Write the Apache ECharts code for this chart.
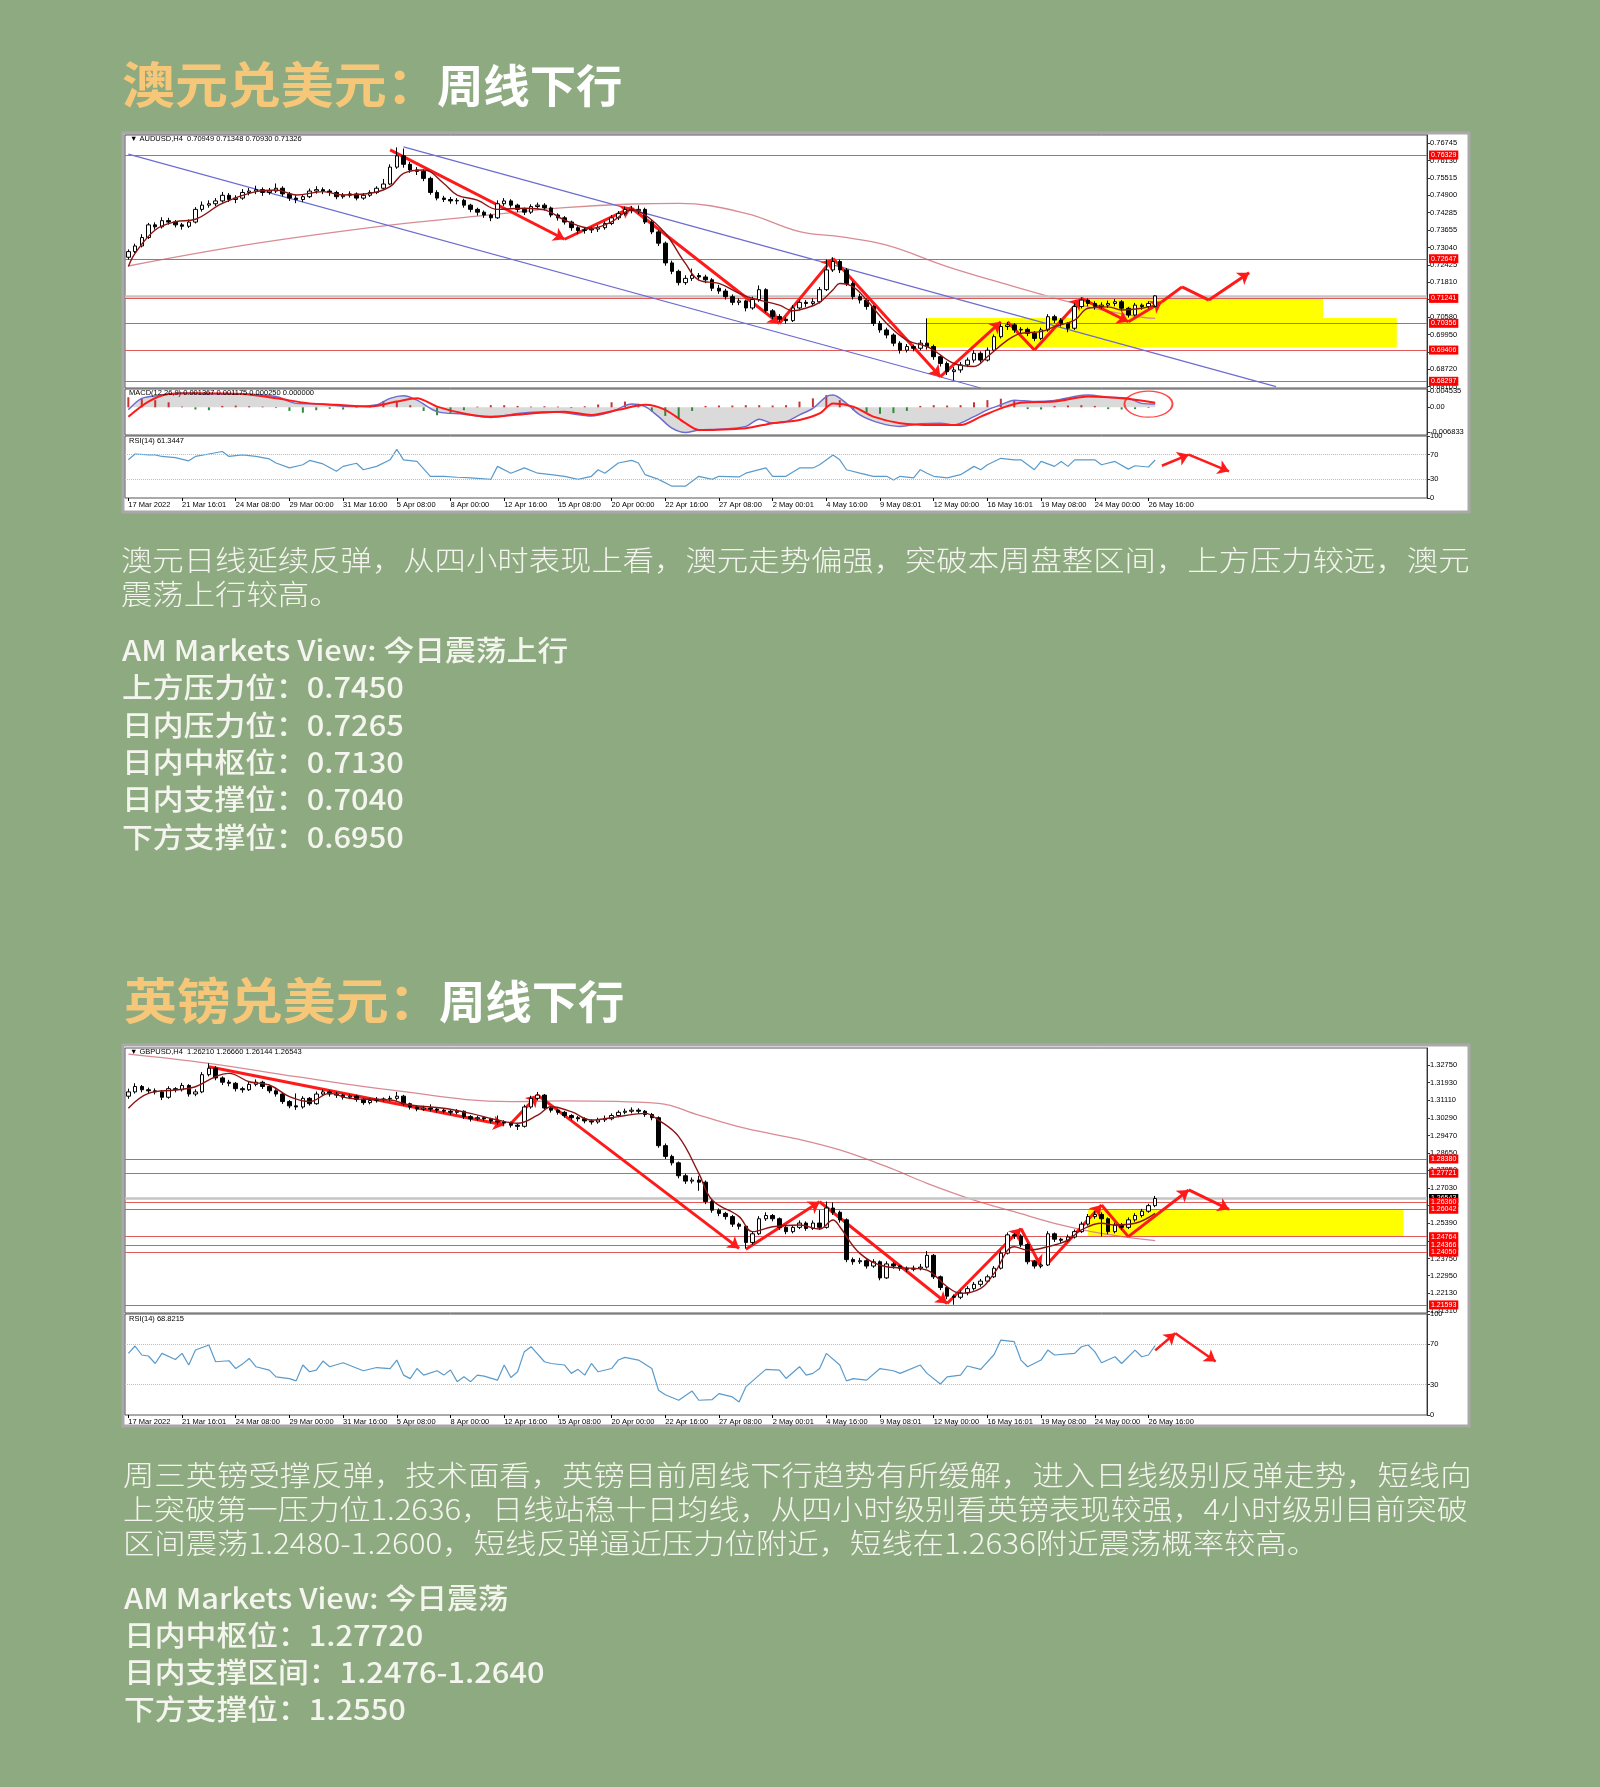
<!DOCTYPE html>
<html>
<head>
<meta charset="utf-8">
<title>澳元兑美元 / 英镑兑美元</title>
<script src="https://cdn.jsdelivr.net/npm/echarts@6.0.0/dist/echarts.min.js"></script>
<style>
html,body{margin:0;padding:0;background:#8eaa80;}
#main{width:1600px;height:1787px;}
</style>
</head>
<body>
<div id="main"></div>
<script>
// ---------------- shared ----------------
const xTicks = ['17 Mar 2022','21 Mar 16:01','24 Mar 08:00','29 Mar 00:00','31 Mar 16:00','5 Apr 08:00','8 Apr 00:00','12 Apr 16:00','15 Apr 08:00','20 Apr 00:00','22 Apr 16:00','27 Apr 08:00','2 May 00:01','4 May 16:00','9 May 08:01','12 May 00:00','16 May 16:01','19 May 08:00','24 May 00:00','26 May 16:00'];
const futureBars = 40;
const rsiTicks = [100,70,30,0];
const rsiLevels = [70,30];

// ---------------- AUDUSD ----------------
const audTitle = ['澳元兑美元：','周线下行'];
const audText = ['澳元日线延续反弹，从四小时表现上看，澳元走势偏强，突破本周盘整区间，上方压力较远，澳元','震荡上行较高。'];
const audView = ['AM Markets View: 今日震荡上行','上方压力位：0.7450','日内压力位：0.7265','日内中枢位：0.7130','日内支撑位：0.7040','下方支撑位：0.6950'];
const audHeader = '\u25BC AUDUSD,H4  0.70949 0.71348 0.70930 0.71326';
const audMacdHeader = 'MACD(12,26,9) 0.001367 0.001175 0.000250 0.000000';
const audRsiHeader = 'RSI(14) 61.3447';
// [open, close, low, high]
const audCandles = [
[.7270,.7290,.7262,.7298],[.7290,.7310,.7284,.7318],[.7310,.7340,.7305,.7352],[.7340,.7385,.7335,.7392],[.7385,.7378,.7368,.7394],
[.7378,.7400,.7372,.7412],[.7400,.7395,.7386,.7410],[.7395,.7385,.7376,.7402],[.7385,.7380,.7368,.7392],[.7380,.7395,.7374,.7404],
[.7395,.7440,.7390,.7448],[.7440,.7455,.7432,.7468],[.7455,.7460,.7446,.7472],[.7460,.7470,.7452,.7480],[.7470,.7490,.7464,.7502],
[.7490,.7475,.7466,.7498],[.7475,.7480,.7462,.7490],[.7480,.7500,.7474,.7512],[.7500,.7505,.7490,.7516],[.7505,.7510,.7494,.7524],
[.7510,.7500,.7488,.7518],[.7500,.7505,.7492,.7516],[.7505,.7515,.7498,.7532],[.7515,.7495,.7486,.7522],[.7495,.7480,.7470,.7502],
[.7480,.7475,.7462,.7490],[.7475,.7485,.7466,.7494],[.7485,.7505,.7480,.7514],[.7505,.7510,.7496,.7522],[.7510,.7505,.7494,.7518],
[.7505,.7500,.7488,.7512],[.7500,.7485,.7476,.7506],[.7485,.7490,.7478,.7498],[.7490,.7495,.7482,.7504],[.7495,.7480,.7472,.7500],
[.7480,.7490,.7474,.7498],[.7490,.7500,.7484,.7508],[.7500,.7515,.7494,.7522],[.7515,.7530,.7508,.7548],[.7530,.7590,.7526,.7600],
[.7590,.7630,.7584,.7660],[.7630,.7600,.7588,.7656],[.7600,.7580,.7570,.7608],[.7580,.7575,.7562,.7590],[.7575,.7550,.7540,.7582],
[.7550,.7500,.7492,.7556],[.7500,.7480,.7472,.7508],[.7480,.7475,.7466,.7488],[.7475,.7470,.7460,.7484],[.7470,.7472,.7458,.7480],
[.7472,.7455,.7446,.7478],[.7455,.7440,.7430,.7460],[.7440,.7430,.7418,.7446],[.7430,.7420,.7410,.7436],[.7420,.7410,.7398,.7426],
[.7410,.7460,.7406,.7472],[.7460,.7470,.7452,.7480],[.7470,.7455,.7446,.7476],[.7455,.7440,.7430,.7460],[.7440,.7430,.7420,.7446],
[.7430,.7450,.7424,.7458],[.7450,.7455,.7442,.7464],[.7455,.7445,.7436,.7462],[.7445,.7420,.7412,.7450],[.7420,.7410,.7400,.7426],
[.7410,.7395,.7386,.7416],[.7395,.7375,.7364,.7400],[.7375,.7365,.7352,.7380],[.7365,.7367,.7354,.7374],[.7367,.7370,.7356,.7378],
[.7370,.7375,.7360,.7384],[.7375,.7390,.7368,.7398],[.7390,.7410,.7384,.7420],[.7410,.7425,.7402,.7434],[.7425,.7440,.7418,.7450],
[.7440,.7435,.7426,.7452],[.7435,.7440,.7424,.7454],[.7440,.7395,.7388,.7446],[.7395,.7360,.7352,.7402],[.7360,.7320,.7310,.7366],
[.7320,.7250,.7240,.7326],[.7250,.7220,.7210,.7258],[.7220,.7180,.7170,.7226],[.7180,.7195,.7172,.7206],[.7195,.7205,.7186,.7230],
[.7205,.7200,.7188,.7214],[.7200,.7190,.7178,.7208],[.7190,.7160,.7150,.7196],[.7160,.7150,.7140,.7172],[.7150,.7130,.7120,.7158],
[.7130,.7110,.7100,.7138],[.7110,.7115,.7100,.7124],[.7115,.7090,.7078,.7120],[.7090,.7120,.7084,.7130],[.7120,.7155,.7112,.7170],
[.7155,.7080,.7072,.7160],[.7080,.7060,.7050,.7086],[.7060,.7050,.7040,.7068],[.7050,.7045,.7034,.7058],[.7045,.7090,.7040,.7100],
[.7090,.7110,.7082,.7120],[.7110,.7106,.7094,.7118],[.7106,.7112,.7096,.7124],[.7112,.7155,.7106,.7164],[.7155,.7225,.7150,.7262],
[.7225,.7255,.7218,.7270],[.7255,.7225,.7214,.7262],[.7225,.7177,.7168,.7232],[.7177,.7130,.7120,.7184],[.7130,.7118,.7106,.7140],
[.7118,.7095,.7084,.7124],[.7095,.7035,.7026,.7100],[.7035,.7012,.7002,.7044],[.7012,.6994,.6982,.7020],[.6994,.6965,.6954,.7000],
[.6965,.6940,.6928,.6972],[.6940,.6953,.6932,.6962],[.6953,.6947,.6936,.6960],[.6947,.6965,.6940,.6976],[.6965,.6953,.6942,.7053],
[.6953,.6917,.6906,.6960],[.6917,.6893,.6882,.6924],[.6893,.6864,.6852,.6900],[.6864,.6870,.6833,.6880],[.6870,.6888,.6860,.6898],
[.6888,.6905,.6880,.6914],[.6905,.6929,.6896,.6940],[.6929,.6905,.6896,.6936],[.6905,.6940,.6900,.6950],[.6940,.6988,.6934,.6996],
[.6988,.7024,.6982,.7034],[.7024,.7030,.7012,.7040],[.7030,.7012,.7002,.7036],[.7012,.7014,.7000,.7022],[.7014,.7000,.6990,.7020],
[.7000,.6982,.6972,.7008],[.6982,.7012,.6976,.7020],[.7012,.7059,.7006,.7068],[.7059,.7047,.7036,.7066],[.7047,.7035,.7024,.7054],
[.7035,.7018,.7004,.7040],[.7018,.7095,.7012,.7106],[.7095,.7118,.7088,.7128],[.7118,.7106,.7096,.7124],[.7106,.7095,.7084,.7114],
[.7095,.7100,.7086,.7110],[.7100,.7106,.7090,.7116],[.7106,.7112,.7096,.7122],[.7112,.7089,.7078,.7118],[.7089,.7065,.7056,.7094],
[.7065,.7100,.7060,.7108],[.7100,.7095,.7084,.7106],[.7095,.7106,.7088,.7114],[.7095,.7133,.7093,.7135]
];
const audMaShort = [[0,.7237],[1,.7284],[4,.7367],[7,.7396],[10,.7405],[14,.7461],[19,.7503],[22,.7509],[25,.7491],[29,.7503],[32,.7491],[36,.7497],[39,.7521],[41,.7568],[44,.7580],[47,.7532],[49,.7491],[52,.7473],[55,.7440],[59,.7444],[62,.7438],[65,.7402],[69,.7373],[72,.7396],[75,.7438],[77,.7420],[80,.7355],[83,.7248],[85,.7189],[88,.7177],[91,.7142],[93,.7124],[97,.7100],[99,.7080],[101,.7090],[103,.7110],[105,.7155],[106,.7177],[108,.7165],[110,.7118],[113,.7035],[116,.6976],[119,.6953],[120,.6940],[123,.6893],[126,.6882],[128,.6917],[131,.6976],[133,.7000],[136,.7006],[138,.7024],[141,.7047],[143,.7089],[146,.7094],[148,.7083],[151,.7089],[153,.7100]];
const audMaLong = [[0,.7239],[19,.7319],[39,.7384],[52,.7416],[65,.7446],[75,.7459],[82,.7461],[92,.7426],[100,.7361],[106,.7343],[113,.7313],[122,.7237],[132,.7166],[141,.7106],[145,.7083],[151,.7057],[153,.7053]];
const audPriceTicks = [0.76745,0.76130,0.75515,0.74900,0.74285,0.73655,0.73040,0.72425,0.71810,0.71195,0.70580,0.69950,0.69335,0.68720,0.68105];
const audLevels = [0.76329,0.72647,0.71241,0.70356,0.69406,0.68297];
const audLast = 0.71326;
const audChannel = [[[0,.7636],[127,.6806]],[[41,.7662],[171,.6811]]];
const audBoxes = [[[119,.7054],[189,.6950]],[[141,.7124],[178,.7050]]];
const audArrows = [
[[39,.7651],[65,.7334],1],[[65,.7334],[75,.7447],1],[[75,.7444],[97,.7035],1],[[97,.7035],[105,.7266],1],
[[105,.7266],[121,.6846],1],[[121,.6846],[130,.7041],1],[[131,.7041],[135,.6941],0],[[135,.6941],[142,.7124],1],
[[142,.7124],[149,.7041],1],[[149,.7041],[154,.7112],1],[[154,.7112],[157,.7165],0],[[157,.7165],[161,.7118],0],
[[161,.7118],[167,.7215],1]];
const audMacd = [[0,-.0007],[2,.0025],[5,.0034],[8,.0040],[12,.0037],[17,.0037],[22,.0030],[25,.0011],[29,.0009],[33,.0002],[37,.0007],[39,.0025],[41,.0032],[43,.0020],[46,-.0012],[50,-.0019],[54,-.0028],[58,-.0017],[62,-.0012],[65,-.0015],[69,-.0024],[72,-.0012],[75,.0009],[77,.0002],[79,-.0026],[81,-.0058],[83,-.0070],[85,-.0063],[88,-.0061],[92,-.0053],[94,-.0033],[96,-.0044],[98,-.0040],[100,-.0021],[102,-.0003],[104,.0030],[105,.0034],[107,.0011],[109,-.0021],[112,-.0044],[115,-.0053],[118,-.0046],[121,-.0044],[123,-.0049],[126,-.0026],[128,-.0007],[130,.0007],[132,.0020],[135,.0016],[138,.0019],[141,.0030],[143,.0034],[146,.0028],[149,.0025],[151,.0011],[153,.0009]];
const audSignal = [[0,-.0026],[3,.0016],[6,.0037],[10,.0039],[17,.0037],[22,.0025],[27,.0011],[31,.0007],[36,.0002],[40,.0016],[43,.0025],[46,.0002],[50,-.0017],[54,-.0026],[60,-.0017],[65,-.0012],[69,-.0021],[73,-.0007],[77,.0007],[80,-.0007],[83,-.0044],[85,-.0063],[92,-.0058],[96,-.0044],[100,-.0035],[103,-.0017],[105,.0011],[108,.0002],[111,-.0026],[115,-.0044],[120,-.0049],[124,-.0049],[127,-.0026],[130,-.0003],[133,.0013],[138,.0016],[143,.0030],[148,.0025],[153,.0013]];
// histogram, one value per two bars
const audOsma = [.0028,.0025,.0020,.0014,.0002,-.0006,-.0008,.0004,.0005,.0003,.0002,-.0002,-.0010,-.0015,-.0008,-.0004,-.0006,-.0002,.0004,.0018,.0016,.0006,-.0010,-.0022,-.0018,-.0008,.0002,.0006,.0006,.0004,.0002,.0003,.0002,-.0002,.0003,.0008,.0014,.0016,.0010,-.0012,-.0024,-.0030,-.0010,.0004,.0005,.0005,.0006,.0006,.0005,.0006,.0016,.0025,.0034,.0020,-.0008,-.0015,-.0018,-.0016,-.0010,.0004,.0006,.0005,.0006,.0014,.0020,.0024,.0018,-.0005,-.0006,.0004,.0005,.0006,.0004,-.0005,-.0006,-.0005,-.0002];
const audMacdTicks = [0.004535, 0, -0.006833];
const audMacdCircle = [152, 0.0009];
const audRsi = [[0,61.6],[1,71],[3,69.5],[4,69.5],[5,67],[7,65],[9,60],[10,67],[12,71],[14,75],[15,67],[17,69.5],[19,67],[21,63],[22,56.5],[24,48.5],[26,53.6],[27,60.6],[29,55],[31,43],[32,51],[34,56],[35,45.6],[37,51],[39,61.6],[40,78.5],[41,61.6],[43,59],[45,35],[47,35],[49,33.5],[51,32.5],[54,30],[55,51],[57,40],[59,48.5],[61,40],[63,37.6],[65,35],[67,30],[69,35],[70,45.6],[71,40],[73,56.5],[75,60.6],[76,56.5],[77,37.6],[79,30],[81,19],[83,19],[85,35],[87,30],[88,35],[91,34],[92,40],[95,48.5],[96,35],[98,35],[100,48.5],[102,48.5],[103,53.6],[105,69.5],[106,61.6],[107,45.6],[109,40],[111,35],[113,35],[114,29],[115,35],[117,32.5],[118,45.6],[119,40],[120,35],[122,32.5],[124,37.6],[126,51],[127,45.6],[128,53.6],[130,64],[132,61.6],[133,61.6],[135,45.6],[136,59],[138,51],[139,59],[140,51],[141,61.6],[144,61.6],[145,53.6],[147,59],[149,46.6],[150,52],[152,50],[153,61.3]];
const audRsiArrows = [[[154,52],[158,70],1],[[158,70],[164,43],1]];

// ---------------- GBPUSD ----------------
const gbpTitle = ['英镑兑美元：','周线下行'];
const gbpText = ['周三英镑受撑反弹，技术面看，英镑目前周线下行趋势有所缓解，进入日线级别反弹走势，短线向','上突破第一压力位1.2636，日线站稳十日均线，从四小时级别看英镑表现较强，4小时级别目前突破','区间震荡1.2480-1.2600，短线反弹逼近压力位附近，短线在1.2636附近震荡概率较高。'];
const gbpView = ['AM Markets View: 今日震荡','日内中枢位：1.27720','日内支撑区间：1.2476-1.2640','下方支撑位：1.2550'];
const gbpHeader = '\u25BC GBPUSD,H4  1.26210 1.26660 1.26144 1.26543';
const gbpRsiHeader = 'RSI(14) 68.8215';
const gbpCandles = [
[1.3130,1.3150,1.3118,1.3165],[1.3150,1.3175,1.3142,1.3190],[1.3175,1.3160,1.3148,1.3182],[1.3160,1.3155,1.3140,1.3170],[1.3155,1.3150,1.3138,1.3166],
[1.3150,1.3125,1.3112,1.3158],[1.3125,1.3165,1.3118,1.3176],[1.3165,1.3160,1.3148,1.3172],[1.3160,1.3180,1.3152,1.3192],[1.3180,1.3140,1.3128,1.3186],
[1.3140,1.3150,1.3130,1.3162],[1.3150,1.3230,1.3144,1.3242],[1.3230,1.3260,1.3222,1.3283],[1.3260,1.3215,1.3204,1.3270],[1.3215,1.3195,1.3182,1.3222],
[1.3195,1.3190,1.3176,1.3206],[1.3190,1.3165,1.3152,1.3196],[1.3165,1.3160,1.3146,1.3174],[1.3160,1.3185,1.3154,1.3200],[1.3185,1.3195,1.3176,1.3208],
[1.3195,1.3175,1.3164,1.3202],[1.3175,1.3155,1.3144,1.3182],[1.3155,1.3140,1.3128,1.3162],[1.3140,1.3105,1.3094,1.3146],[1.3105,1.3085,1.3074,1.3112],
[1.3085,1.3080,1.3066,1.3143],[1.3080,1.3120,1.3072,1.3130],[1.3120,1.3095,1.3086,1.3126],[1.3095,1.3140,1.3090,1.3152],[1.3140,1.3150,1.3130,1.3162],
[1.3150,1.3140,1.3128,1.3158],[1.3140,1.3135,1.3122,1.3150],[1.3135,1.3125,1.3114,1.3142],[1.3125,1.3130,1.3116,1.3140],[1.3130,1.3115,1.3104,1.3136],
[1.3115,1.3100,1.3090,1.3122],[1.3100,1.3110,1.3092,1.3120],[1.3110,1.3115,1.3100,1.3126],[1.3115,1.3117,1.3104,1.3124],[1.3117,1.3120,1.3106,1.3132],
[1.3120,1.3130,1.3110,1.3150],[1.3130,1.3095,1.3086,1.3136],[1.3095,1.3080,1.3068,1.3100],[1.3080,1.3070,1.3060,1.3088],[1.3070,1.3075,1.3062,1.3086],
[1.3075,1.3070,1.3060,1.3092],[1.3070,1.3065,1.3054,1.3078],[1.3065,1.3060,1.3050,1.3074],[1.3060,1.3055,1.3044,1.3068],[1.3055,1.3060,1.3046,1.3070],
[1.3060,1.3035,1.3024,1.3064],[1.3035,1.3025,1.3012,1.3042],[1.3025,1.3030,1.3016,1.3040],[1.3030,1.3025,1.3014,1.3038],[1.3025,1.3015,1.3004,1.3030],
[1.3015,1.3010,1.2998,1.3040],[1.3010,1.3005,1.2994,1.3018],[1.3005,1.2995,1.2984,1.3012],[1.2995,1.2990,1.2973,1.3004],[1.2990,1.3080,1.2984,1.3090],
[1.3080,1.3120,1.3072,1.3132],[1.3120,1.3135,1.3110,1.3150],[1.3135,1.3075,1.3066,1.3140],[1.3075,1.3065,1.3054,1.3082],[1.3065,1.3055,1.3044,1.3072],
[1.3055,1.3040,1.3030,1.3062],[1.3040,1.3030,1.3018,1.3046],[1.3030,1.3025,1.3012,1.3038],[1.3025,1.3015,1.3004,1.3032],[1.3015,1.3010,1.2998,1.3022],
[1.3010,1.3020,1.3002,1.3030],[1.3020,1.3025,1.3010,1.3040],[1.3025,1.3040,1.3018,1.3050],[1.3040,1.3055,1.3032,1.3064],[1.3055,1.3060,1.3046,1.3072],
[1.3060,1.3065,1.3050,1.3078],[1.3065,1.3060,1.3048,1.3074],[1.3060,1.3045,1.3034,1.3066],[1.3045,1.3030,1.3018,1.3052],[1.3030,1.2900,1.2890,1.3036],
[1.2900,1.2850,1.2838,1.2910],[1.2850,1.2820,1.2808,1.2858],[1.2820,1.2760,1.2748,1.2826],[1.2760,1.2735,1.2722,1.2770],[1.2735,1.2740,1.2724,1.2752],
[1.2740,1.2730,1.2690,1.2760],[1.2730,1.2640,1.2628,1.2738],[1.2640,1.2600,1.2588,1.2648],[1.2600,1.2585,1.2572,1.2608],[1.2585,1.2570,1.2556,1.2592],
[1.2570,1.2535,1.2522,1.2578],[1.2535,1.2525,1.2510,1.2542],[1.2525,1.2450,1.2422,1.2530],[1.2450,1.2490,1.2440,1.2500],[1.2490,1.2560,1.2484,1.2572],
[1.2560,1.2575,1.2550,1.2590],[1.2575,1.2560,1.2548,1.2582],[1.2560,1.2520,1.2508,1.2566],[1.2520,1.2500,1.2488,1.2526],[1.2500,1.2520,1.2492,1.2530],
[1.2520,1.2540,1.2512,1.2552],[1.2540,1.2515,1.2504,1.2548],[1.2515,1.2540,1.2508,1.2552],[1.2540,1.2520,1.2508,1.2600],[1.2520,1.2610,1.2514,1.2640],
[1.2610,1.2590,1.2578,1.2636],[1.2590,1.2555,1.2542,1.2598],[1.2555,1.2370,1.2358,1.2562],[1.2370,1.2360,1.2346,1.2380],[1.2360,1.2365,1.2350,1.2378],
[1.2365,1.2340,1.2328,1.2372],[1.2340,1.2360,1.2332,1.2372],[1.2360,1.2285,1.2274,1.2366],[1.2285,1.2350,1.2280,1.2362],[1.2350,1.2340,1.2328,1.2358],
[1.2340,1.2330,1.2318,1.2346],[1.2330,1.2325,1.2312,1.2338],[1.2325,1.2330,1.2316,1.2342],[1.2330,1.2335,1.2320,1.2350],[1.2335,1.2390,1.2328,1.2410],
[1.2390,1.2290,1.2280,1.2396],[1.2290,1.2240,1.2228,1.2296],[1.2240,1.2200,1.2186,1.2246],[1.2200,1.2195,1.2160,1.2208],[1.2195,1.2215,1.2186,1.2226],
[1.2215,1.2235,1.2204,1.2246],[1.2235,1.2255,1.2226,1.2266],[1.2255,1.2270,1.2244,1.2280],[1.2270,1.2290,1.2262,1.2300],[1.2290,1.2330,1.2284,1.2340],
[1.2330,1.2400,1.2324,1.2412],[1.2400,1.2485,1.2394,1.2496],[1.2485,1.2480,1.2466,1.2494],[1.2480,1.2440,1.2428,1.2488],[1.2440,1.2360,1.2348,1.2446],
[1.2360,1.2340,1.2328,1.2368],[1.2340,1.2345,1.2330,1.2356],[1.2345,1.2490,1.2340,1.2502],[1.2490,1.2465,1.2452,1.2496],[1.2465,1.2460,1.2448,1.2472],
[1.2460,1.2475,1.2452,1.2486],[1.2475,1.2500,1.2468,1.2510],[1.2500,1.2535,1.2494,1.2546],[1.2535,1.2570,1.2528,1.2582],[1.2570,1.2580,1.2560,1.2596],
[1.2580,1.2560,1.2478,1.2590],[1.2560,1.2500,1.2488,1.2566],[1.2500,1.2530,1.2492,1.2542],[1.2530,1.2520,1.2508,1.2540],[1.2520,1.2555,1.2512,1.2566],
[1.2555,1.2575,1.2546,1.2586],[1.2575,1.2595,1.2566,1.2606],[1.2595,1.2621,1.2588,1.2630],[1.2621,1.2654,1.2614,1.2666]
];
const gbpMaShort = [[0,1.3074],[3,1.3143],[7,1.3159],[10,1.3174],[13,1.3221],[15,1.3236],[18,1.3197],[21,1.3182],[24,1.3128],[27,1.3105],[30,1.3143],[33,1.3120],[39,1.3112],[42,1.3089],[47,1.3074],[51,1.3050],[55,1.3019],[58,1.3004],[61,1.3042],[63,1.3081],[66,1.3058],[69,1.3019],[73,1.3035],[77,1.3050],[79,1.3019],[82,1.2942],[85,1.2771],[87,1.2647],[91,1.2570],[93,1.2500],[96,1.2523],[100,1.2531],[103,1.2512],[105,1.2554],[106,1.2523],[109,1.2399],[113,1.2337],[117,1.2329],[119,1.2321],[122,1.2244],[124,1.2213],[127,1.2236],[129,1.2306],[132,1.2430],[134,1.2414],[137,1.2430],[140,1.2461],[142,1.2508],[145,1.2539],[147,1.2531],[150,1.2539],[153,1.2585]];
const gbpMaLong = [[0,1.3326],[12,1.3283],[25,1.3221],[39,1.3159],[57,1.3105],[65,1.3108],[79,1.3097],[85,1.3042],[92,1.2980],[100,1.2929],[106,1.2880],[113,1.2802],[119,1.2725],[126,1.2647],[132,1.2593],[138,1.2539],[145,1.2492],[153,1.2458]];
const gbpPriceTicks = [1.32750,1.31930,1.31110,1.30290,1.29470,1.28650,1.27850,1.27030,1.26210,1.25390,1.24570,1.23750,1.22950,1.22130,1.21310];
const gbpLevels = [1.28380,1.27721,1.26360,1.26042,1.24764,1.24366,1.24050,1.21593];
const gbpLast = 1.26543;
const gbpBoxes = [[[143,1.2604],[190,1.2476]]];
const gbpArrows = [
[[12,1.3267],[56,1.2996],1],[[57,1.3003],[61,1.3135],1],[[61,1.3135],[91,1.2422],1],[[92,1.2418],[103,1.2639],1],
[[103,1.2639],[122,1.2166],1],[[122,1.2166],[133,1.2515],1],[[133,1.2515],[136,1.2337],1],[[137,1.2352],[145,1.2624],1],
[[145,1.2624],[149,1.2477],0],[[149,1.2477],[158,1.2694],1],[[158,1.2694],[164,1.2604],1]];
const gbpRsi = [[0,61],[1,68.3],[2,59.4],[3,58.4],[4,51],[5,61],[7,55],[8,61],[9,49.5],[10,64.3],[12,69.3],[13,52.7],[15,53.7],[16,46],[17,50.4],[18,56],[19,47.8],[21,44.5],[22,37.8],[24,36],[25,33.8],[26,49.5],[27,42.8],[28,44.5],[29,53.4],[30,47.8],[32,51.7],[35,43.8],[37,47],[39,46],[40,54.4],[41,39.5],[42,36],[43,46],[44,39.5],[46,43.8],[47,39.5],[48,44.5],[49,33],[50,37.8],[51,33],[52,39.5],[53,38.5],[55,34.5],[56,49.5],[57,37.2],[58,42.8],[59,62.7],[60,67.6],[62,52.7],[63,51],[65,49.5],[66,41.2],[67,45.2],[68,39.5],[69,51],[70,42.8],[72,46],[73,54.4],[74,57],[76,54.4],[78,46],[79,24.4],[80,20.1],[82,14.6],[84,23.7],[85,14.6],[87,15.3],[88,21.2],[90,17.9],[91,12.9],[92,27.8],[94,39.5],[95,45.2],[97,44.5],[98,36.2],[100,47.8],[101,39.5],[102,41.2],[103,46],[104,61],[106,49.5],[107,33.8],[108,36],[110,34.5],[112,46],[114,43.8],[115,41.2],[118,49.5],[119,41.2],[121,30.7],[122,37.8],[124,39.5],[125,48.5],[127,45.2],[129,59.9],[130,74.2],[132,72.6],[133,54.4],[134,47.8],[136,54.4],[137,64.3],[138,59.4],[141,61],[142,67.6],[143,69.3],[144,62.7],[145,51.7],[147,57.7],[148,51],[150,64.3],[151,57.7],[152,59.4],[153,68.8]];
const gbpRsiArrows = [[[153,64],[156,81],1],[[156,81],[162,53],1]];

// ---------------- build ----------------
const nCat = audCandles.length + futureBars;
const cats = Array.from({length: nCat}, (_, i) => String(i));
const labelEvery = 8;
const tickInt = (i) => i % labelEvery === 0 && i / labelEvery < xTicks.length;

const CJK = '"Noto Sans CJK SC", "Noto Sans", sans-serif';
const SMALL = '"Liberation Sans", "DejaVu Sans", sans-serif';
const BG = '#8eaa80';
const RED = '#ff1a1a';

function xAx(gi, show) {
  return {
    type: 'category', gridIndex: gi, data: cats, boundaryGap: true,
    axisLine: {show: false},
    axisTick: {show: show, interval: tickInt, alignWithLabel: true, length: 3, lineStyle: {color: '#000'}},
    axisLabel: {show: show, interval: tickInt, formatter: (v, i) => xTicks[i / labelEvery], align: 'left',
      fontSize: 7.5, fontFamily: SMALL, color: '#000', margin: 3},
    splitLine: {show: false}
  };
}
function yAx(gi, min, max, vals, fmt) {
  return {
    type: 'value', gridIndex: gi, position: 'right', min: min, max: max,
    axisLine: {show: true, lineStyle: {color: '#333', width: 1}},
    axisTick: {show: true, length: 3, customValues: vals, lineStyle: {color: '#333'}},
    axisLabel: {show: true, customValues: vals, formatter: fmt, fontSize: 7.5, fontFamily: SMALL, color: '#000', margin: 3},
    splitLine: {show: false}
  };
}
const gridBase = {left: 125, width: 1302, show: true, borderColor: '#555', borderWidth: 1, backgroundColor: '#fff'};
const fmtPrice = (v) => v.toFixed(5);
const fmtMacd = (v) => v === 0 ? '0.00' : String(v);
const fmtRsi = (v) => String(v);

function empty(xi, extra) { return Object.assign({type: 'line', data: [], xAxisIndex: xi, yAxisIndex: xi, silent: true, symbol: 'none'}, extra); }
function tagLabel(bg) {
  return {show: true, position: 'end', distance: 2, formatter: (p) => Number(p.value).toFixed(5), backgroundColor: bg,
    color: '#fff', fontSize: 7, fontFamily: SMALL, padding: [1, 2, 0, 2], lineHeight: 8};
}
function levelsSeries(xi, levels, last, lastTag) {
  const data = [{yAxis: last, lineStyle: {color: '#c4c4c4', width: 2.5}, label: lastTag ? tagLabel('#000') : {show: false}}];
  levels.forEach(v => data.push({yAxis: v}));
  return empty(xi, {z: 2, markLine: {silent: true, symbol: 'none', animation: false, precision: 6,
    lineStyle: {color: '#e05a5a', width: 1.2, type: 'solid'}, label: tagLabel('#ff0000'),
    emphasis: {disabled: true}, data: data}});
}
function boxesSeries(xi, boxes) {
  return empty(xi, {z: 1, markArea: {silent: true, itemStyle: {color: '#ffff00'}, label: {show: false},
    data: boxes.map(b => [{coord: b[0]}, {coord: b[1]}])}});
}
function arrowsSeries(xi, arrows, width, z) {
  return empty(xi, {z: z, markLine: {silent: true, animation: false, symbolSize: 11, precision: 6,
    lineStyle: {color: RED, width: width, type: 'solid'}, label: {show: false}, emphasis: {disabled: true},
    data: arrows.map(a => [{coord: a[0], symbol: 'none'}, {coord: a[1], symbol: a[2] ? 'arrow' : 'none'}])}});
}
function candleSeries(xi, data) {
  return {type: 'candlestick', data: data, xAxisIndex: xi, yAxisIndex: xi, z: 5, barWidth: 4, silent: true,
    itemStyle: {color: '#ffffff', color0: '#000000', borderColor: '#000000', borderColor0: '#000000', borderWidth: 1}};
}
function lineSeries(xi, data, color, width, z, smooth) {
  return {type: 'line', data: data, xAxisIndex: xi, yAxisIndex: xi, z: z, symbol: 'none', silent: true,
    smooth: smooth, lineStyle: {color: color, width: width}};
}
function rsiSeries(xi, data) {
  const s = lineSeries(xi, data, '#5a9bcb', 1.2, 3, false);
  s.markLine = {silent: true, symbol: 'none', animation: false, label: {show: false},
    lineStyle: {color: '#bdbdbd', type: 'dotted', width: 1}, data: rsiLevels.map(v => ({yAxis: v}))};
  return s;
}

function txt(text, x, y, size, color, weight, sx, family) {
  return {type: 'text', x: x, y: y, scaleX: sx || 1, z: 100, silent: true,
    style: {text: text, fontSize: size, fontFamily: family || CJK, fontWeight: weight || 'normal', fill: color,
      align: 'left', verticalAlign: 'middle', textAlign: 'left', textVerticalAlign: 'middle'}};
}

const TXT = '#f5f5ef';
const ORANGE = '#f7c779';
const graphics = [
  {type: 'rect', z: -10, silent: true, shape: {x: 123, y: 133, width: 1346, height: 379}, style: {fill: '#fff', stroke: '#a9a9a9', lineWidth: 3}},
  {type: 'rect', z: -10, silent: true, shape: {x: 123, y: 1045, width: 1346, height: 381}, style: {fill: '#fff', stroke: '#a9a9a9', lineWidth: 3}},
  txt(audTitle[0], 122, 84, 49, ORANGE, 'bold', 1.08),
  txt(audTitle[1], 437, 86, 45, '#ffffff', 'bold', 1.03),
  txt(gbpTitle[0], 124, 1000, 49, ORANGE, 'bold', 1.08),
  txt(gbpTitle[1], 439, 1002, 45, '#ffffff', 'bold', 1.03),
  txt(audHeader, 130, 139, 7.5, '#000', 'normal', 1, SMALL),
  txt(audMacdHeader, 129, 393, 7.5, '#000', 'normal', 1, SMALL),
  txt(audRsiHeader, 129, 441, 7.5, '#000', 'normal', 1, SMALL),
  txt(gbpHeader, 130, 1052, 7.5, '#000', 'normal', 1, SMALL),
  txt(gbpRsiHeader, 129, 1319, 7.5, '#000', 'normal', 1, SMALL)
];
[560, 594].forEach((y, i) => graphics.push(txt(audText[i], 121, y, 28, TXT, 300, 1.12)));
[650, 687, 725, 762, 799, 837].forEach((y, i) => graphics.push(txt(audView[i], 122, y, 28, TXT, 500, 1.1)));
[[1475, 1.12], [1509, 1.105], [1543, 1.12]].forEach((p, i) => graphics.push(txt(gbpText[i], 123, p[0], 28, TXT, 300, p[1])));
[1598, 1635, 1672, 1709].forEach((y, i) => graphics.push(txt(gbpView[i], 124, y, 28, TXT, 500, 1.1)));

const option = {
  animation: false,
  backgroundColor: BG,
  graphic: {elements: graphics},
  grid: [
    Object.assign({top: 135, height: 253}, gridBase),
    Object.assign({top: 389, height: 46}, gridBase),
    Object.assign({top: 436, height: 62}, gridBase),
    Object.assign({top: 1048, height: 265}, gridBase),
    Object.assign({top: 1314, height: 101}, gridBase)
  ],
  xAxis: [xAx(0, false), xAx(1, false), xAx(2, true), xAx(3, false), xAx(4, true)],
  yAxis: [
    yAx(0, 0.68059, 0.77040, audPriceTicks, fmtPrice),
    yAx(1, -0.0077, 0.0051, audMacdTicks, fmtMacd),
    yAx(2, 0, 100, rsiTicks, fmtRsi),
    yAx(3, 1.21217, 1.33541, gbpPriceTicks, fmtPrice),
    yAx(4, 0, 100, rsiTicks, fmtRsi)
  ],
  series: [
    // AUD price
    boxesSeries(0, audBoxes),
    levelsSeries(0, audLevels, audLast, false),
    empty(0, {z: 3, markLine: {silent: true, symbol: 'none', animation: false, precision: 6, label: {show: false},
      lineStyle: {color: '#6c6cd2', width: 1.2, type: 'solid'},
      data: audChannel.map(s => [{coord: s[0]}, {coord: s[1]}])}}),
    lineSeries(0, audMaLong, '#d98b93', 1.3, 4, 0.4),
    candleSeries(0, audCandles),
    lineSeries(0, audMaShort, '#8e1414', 1.4, 6, 0.4),
    arrowsSeries(0, audArrows, 3, 8),
    // AUD MACD
    {type: 'line', data: audMacd, xAxisIndex: 1, yAxisIndex: 1, z: 2, symbol: 'none', silent: true, smooth: 0.3,
      lineStyle: {width: 0}, areaStyle: {color: '#d6d6d6', opacity: 0.9}},
    {type: 'bar', data: audOsma.map((v, i) => [i * 2, v]), xAxisIndex: 1, yAxisIndex: 1, z: 3, barWidth: 2, silent: true,
      itemStyle: {color: (p) => p.value[1] >= 0 ? '#c83232' : '#2e8a36'}},
    lineSeries(1, audMacd, '#6c6cd2', 1.5, 4, 0.3),
    lineSeries(1, audSignal, RED, 2, 5, 0.3),
    {type: 'scatter', data: [audMacdCircle], xAxisIndex: 1, yAxisIndex: 1, z: 6, silent: true, symbol: 'circle', symbolSize: [48, 26],
      itemStyle: {color: 'rgba(0,0,0,0)', borderColor: RED, borderWidth: 1.5}},
    // AUD RSI
    rsiSeries(2, audRsi),
    arrowsSeries(2, audRsiArrows, 2.5, 8),
    // GBP price
    boxesSeries(3, gbpBoxes),
    levelsSeries(3, gbpLevels, gbpLast, true),
    lineSeries(3, gbpMaLong, '#d98b93', 1.3, 4, 0.4),
    candleSeries(3, gbpCandles),
    lineSeries(3, gbpMaShort, '#8e1414', 1.4, 6, 0.4),
    arrowsSeries(3, gbpArrows, 3, 8),
    // GBP RSI
    rsiSeries(4, gbpRsi),
    arrowsSeries(4, gbpRsiArrows, 2.5, 8)
  ]
};

const chart = echarts.init(document.getElementById('main'), null, {renderer: 'canvas', width: 1600, height: 1787});
chart.setOption(option);
</script>
</body>
</html>
